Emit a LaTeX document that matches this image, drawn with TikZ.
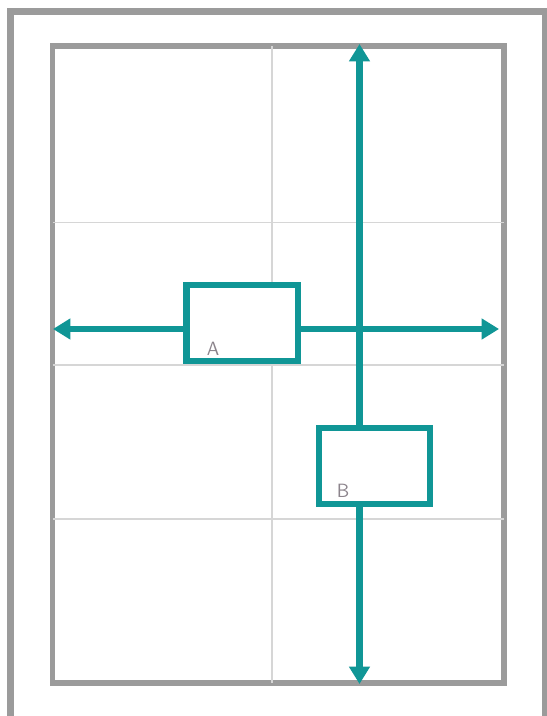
\documentclass[tikz,border=0pt]{standalone}
\usepackage{tikz}
\usetikzlibrary{arrows.meta}

\definecolor{tealline}{RGB}{16,150,150}
\definecolor{framegray}{RGB}{155,155,155}
\definecolor{gridgray}{RGB}{214,214,214}
\definecolor{taggray}{RGB}{140,132,140}

\tikzset{
  frame/.style={draw=framegray},
  gridline/.style={draw=gridgray,line width=1.2pt},
  flow/.style={draw=tealline,line width=4.6pt,
    {Triangle[length=13pt,width=15pt]}-{Triangle[length=13pt,width=15pt]}},
  box/.style={draw=tealline,line width=4.8pt,fill=white,
    minimum width=83.5pt,minimum height=57pt,inner sep=0pt},
  tag/.style={text=taggray,font=\sffamily\Large,inner sep=0pt}
}

\begin{document}
\begin{tikzpicture}[x=0.75pt,y=-0.75pt]
    \useasboundingbox (0,0) rectangle (546,716);
    \fill[white] (0,0) rectangle (546,716);

    % page frames
    \draw[frame,line width=5.6pt] (10.5,11.5) rectangle (546,719.5);
    \draw[frame,line width=3.8pt] (52.5,46) rectangle (504,683);

    % grid
    \draw[gridline] (271.7,46) -- (271.7,683);
    \foreach \gy in {222.7,365,519}
      \draw[gridline] (52.5,\gy) -- (504,\gy);

    % arrow ends
    \coordinate (west) at (53,329);
    \coordinate (east) at (499,329);
    \coordinate (north) at (359.5,44);
    \coordinate (south) at (359.5,684);

    \draw[flow] (west) -- (east);
    \draw[flow] (north) -- (south);

    % boxes
    \node[box] (boxA) at (242.2,323) {};
    \node[box] (boxB) at (374.5,466) {};
    \node[tag] (tagA) at (213,349) {A};
    \node[tag] (tagB) at (343,491) {B};
  \end{tikzpicture}
\end{document}
